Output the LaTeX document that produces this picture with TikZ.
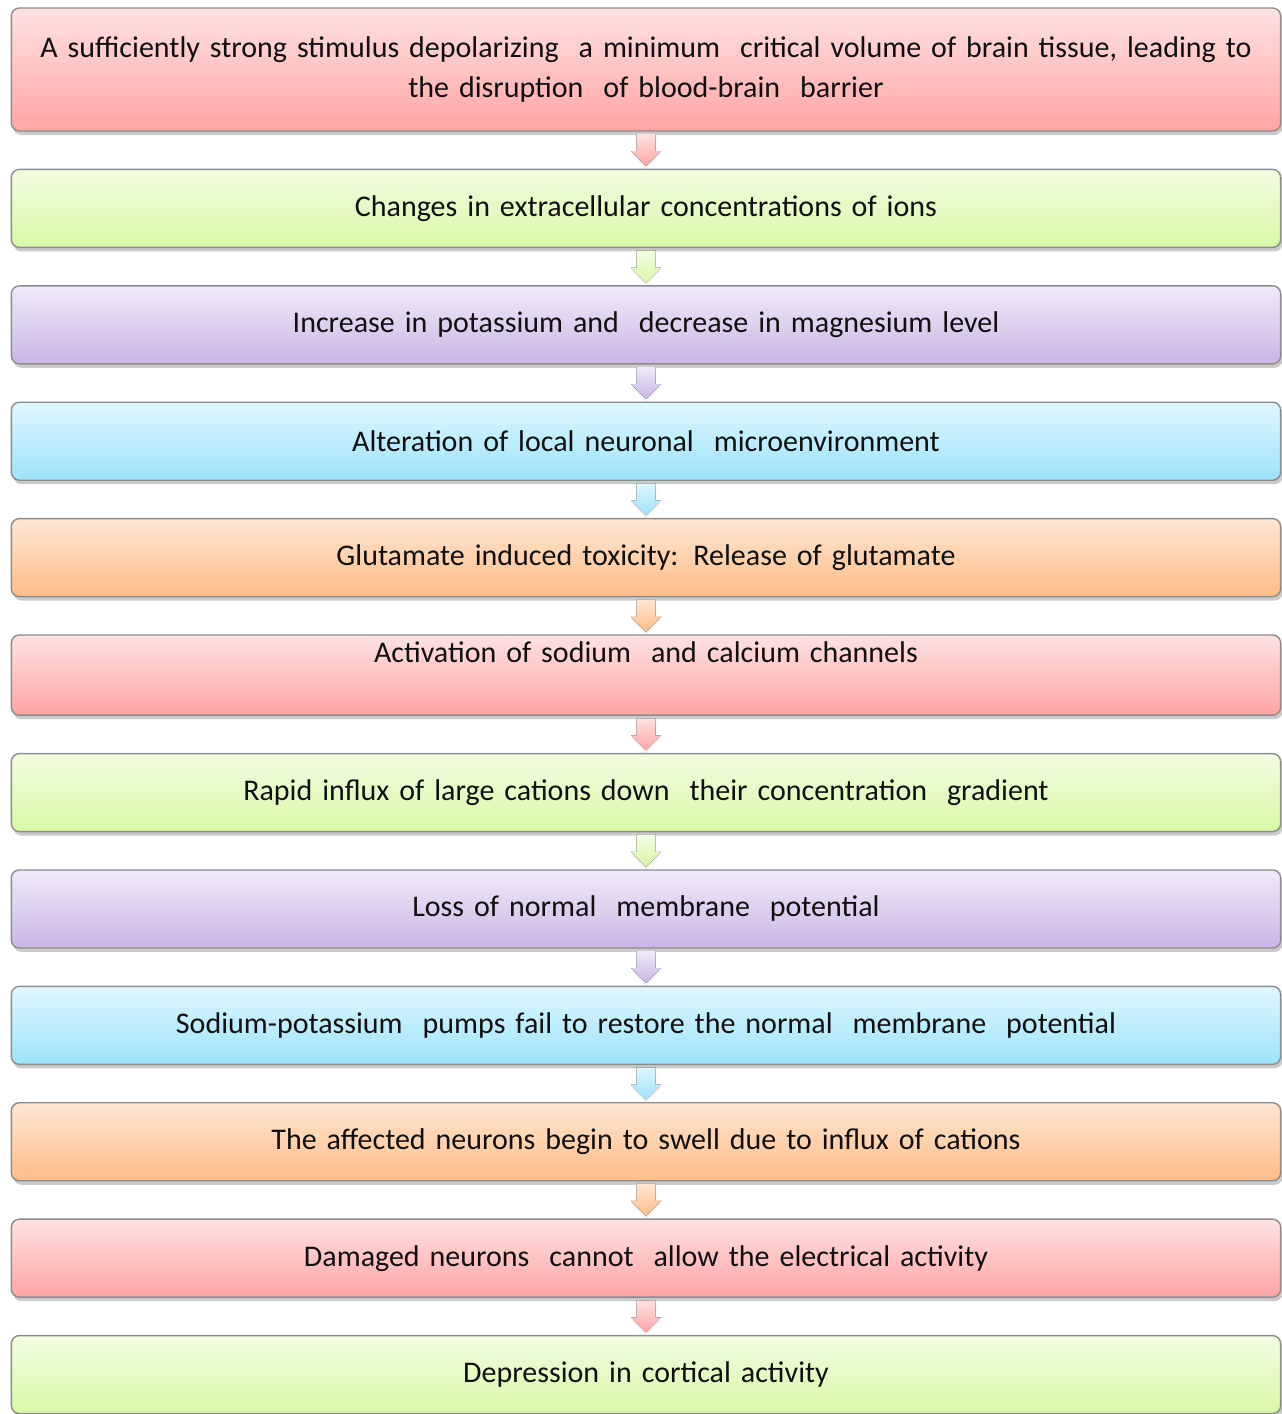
\documentclass[tikz,border=0pt]{standalone}
\usepackage{fontspec}
\setmainfont{Carlito}
\usetikzlibrary{shapes, shadows, positioning}

\definecolor{boxborder}{HTML}{8C8C8C}
\definecolor{textcol}{HTML}{101010}
\definecolor{redtop}{HTML}{FFE2E2}
\definecolor{redbot}{HTML}{FFA4A4}
\definecolor{greentop}{HTML}{F3FDE2}
\definecolor{greenbot}{HTML}{D8F8A6}
\definecolor{purpletop}{HTML}{F0EAF9}
\definecolor{purplebot}{HTML}{C9B6E5}
\definecolor{bluetop}{HTML}{DFF7FF}
\definecolor{bluebot}{HTML}{9CE3FA}
\definecolor{orangetop}{HTML}{FFE6D3}
\definecolor{orangebot}{HTML}{FFBD86}

\tikzset{
  stepbox/.style={draw=boxborder, line width=0.7pt, rounded corners=4pt,
    minimum width=634pt, minimum height=39pt, text width=628pt,
    align=center, text=textcol, font=\fontsize{15}{20}\selectfont,
    drop shadow={shadow xshift=1pt, shadow yshift=-2pt, fill=black!60, opacity=0.35}},
  redbox/.style={stepbox, top color=redtop, bottom color=redbot},
  greenbox/.style={stepbox, top color=greentop, bottom color=greenbot},
  purplebox/.style={stepbox, top color=purpletop, bottom color=purplebot},
  bluebox/.style={stepbox, top color=bluetop, bottom color=bluebot},
  orangebox/.style={stepbox, top color=orangetop, bottom color=orangebot},
  flowarrow/.style={draw=none,
    drop shadow={shadow xshift=0pt, shadow yshift=-1.5pt, fill=black!40, opacity=0.12}},
}

\begin{document}
\begin{tikzpicture}[x=0.5pt, y=-0.5pt]
  \useasboundingbox (0,0) rectangle (1281,1414);

  % flow boxes
  \node[redbox, minimum height=61.5pt] (b1) at (646,69.5)
    {A sufficiently strong stimulus depolarizing\ \ a minimum\ \ critical volume of brain tissue, leading to\\
     the disruption\ \ of blood-brain\ \ barrier};
  \node[greenbox, below=18.5pt of b1] (b2) {Changes in extracellular concentrations of ions};
  \node[purplebox, below=18.5pt of b2] (b3) {Increase in potassium and\ \ decrease in magnesium level};
  \node[bluebox, below=18.5pt of b3] (b4) {Alteration of local neuronal\ \ microenvironment};
  \node[orangebox, below=18.5pt of b4] (b5) {Glutamate induced toxicity: Release of glutamate};
  \node[redbox, below=18.5pt of b5, text depth=23pt] (b6) {Activation of sodium\ \ and calcium channels};
  \node[greenbox, below=18.5pt of b6] (b7) {Rapid influx of large cations down\ \ their concentration\ \ gradient};
  \node[purplebox, below=18.5pt of b7] (b8) {Loss of normal\ \ membrane\ \ potential};
  \node[bluebox, below=18.5pt of b8] (b9) {Sodium-potassium\ \ pumps fail to restore the normal\ \ membrane\ \ potential};
  \node[orangebox, below=18.5pt of b9] (b10) {The affected neurons begin to swell due to influx of cations};
  \node[redbox, below=18.5pt of b10] (b11) {Damaged neurons\ \ cannot\ \ allow the electrical activity};
  \node[greenbox, below=18.5pt of b11] (b12) {Depression in cortical activity};

  % block arrows between boxes
  \foreach \i/\j/\c in {1/2/red, 2/3/green, 3/4/purple, 4/5/blue, 5/6/orange, 6/7/red,
                        7/8/green, 8/9/purple, 9/10/blue, 10/11/orange, 11/12/red} {
    \path (b\i.south) -- coordinate[pos=.5] (m\i) (b\j.north);
    \fill[flowarrow, shift={(m\i)}, top color=\c top, bottom color=\c bot]
      (-4.75pt,8pt) -- (4.75pt,8pt) -- (4.75pt,-0.5pt) -- (7.5pt,-0.5pt)
      -- (0pt,-8pt) -- (-7.5pt,-0.5pt) -- (-4.75pt,-0.5pt) -- cycle;
  }
\end{tikzpicture}
\end{document}
